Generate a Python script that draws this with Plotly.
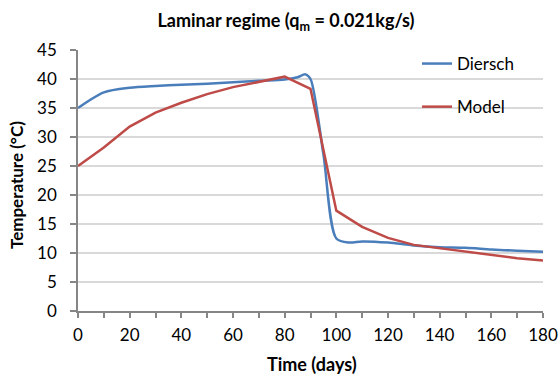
import plotly.graph_objects as go

days_d = [0, 10, 20, 30, 40, 50, 60, 70, 80, 85, 88, 90, 95, 100, 105, 110, 120, 130, 140, 150, 160, 170, 180]
temp_d = [35.0, 37.7, 38.5, 38.8, 39.0, 39.2, 39.45, 39.7, 39.9, 40.3, 40.8, 40.0, 27.0, 12.5, 11.8, 12.0, 11.8, 11.3, 11.0, 10.9, 10.6, 10.4, 10.2]

days_m = [0, 10, 20, 30, 40, 50, 60, 70, 80, 90, 100, 110, 120, 130, 140, 150, 160, 170, 180]
temp_m = [25.0, 28.2, 31.8, 34.2, 35.9, 37.4, 38.6, 39.5, 40.4, 38.3, 17.3, 14.5, 12.6, 11.4, 10.8, 10.2, 9.6, 9.1, 8.7]

FONT = "Lato"

fig = go.Figure()
fig.add_trace(go.Scatter(x=days_d, y=temp_d, mode="lines", name="Diersch",
                         line=dict(color="#4a7ebb", width=2.5, shape="spline", smoothing=0.8),
                         legendgroup="a"))
fig.add_trace(go.Scatter(x=days_m, y=temp_m, mode="lines", name="Model",
                         line=dict(color="#be4b48", width=2.5),
                         legendgroup="b"))

fig.update_layout(
    width=560, height=376,
    margin=dict(l=78, r=17, t=50, b=65, autoexpand=False),
    paper_bgcolor="white", plot_bgcolor="white",
    font=dict(family=FONT, size=15, color="#000000"),
    title=dict(text="<b>Laminar regime (q<sub>m</sub> = 0.021kg/s)</b>",
               x=286 / 560, xanchor="center", y=1 - 21 / 376, yanchor="middle",
               xref="container", yref="container",
               font=dict(size=18, family=FONT)),
    legend=dict(x=(417 - 78) / 465, y=1.0 + 4 / 261, xanchor="left", yanchor="top",
                bgcolor="rgba(0,0,0,0)", traceorder="grouped", tracegroupgap=18,
                font=dict(size=17, family=FONT)),
    showlegend=True,
    annotations=[
        dict(text="<b>Time (days)</b>", xref="paper", yref="paper",
             x=(312 - 78) / 465, y=(311 - 364) / 261, xanchor="center", yanchor="middle",
             showarrow=False, font=dict(size=18, family=FONT)),
        dict(text="<b>Temperature (°C)</b>", xref="paper", yref="paper",
             x=(17 - 78) / 465, y=(311 - 185) / 261, xanchor="center", yanchor="middle",
             textangle=-90, showarrow=False, font=dict(size=17, family=FONT)),
    ],
)

fig.update_xaxes(
    range=[0, 180], dtick=20, tick0=0, automargin=False,
    showline=True, linecolor="#868686", linewidth=1.5,
    ticks="outside", ticklen=5, tickcolor="#868686", tickwidth=1.5,
    minor=dict(dtick=10, ticks="outside", ticklen=5, tickcolor="#868686", tickwidth=1.5, showgrid=False),
    showgrid=False, zeroline=False,
    tickfont=dict(size=17, family=FONT),
    ticklabelstandoff=3,
)
fig.update_yaxes(
    range=[0, 45], dtick=5, tick0=0, automargin=False,
    showline=True, linecolor="#868686", linewidth=1.5,
    ticks="outside", ticklen=6, tickcolor="#868686", tickwidth=1.5,
    showgrid=True, gridcolor="#d9d9d9", gridwidth=1.5,
    zeroline=False,
    tickfont=dict(size=17, family=FONT),
    ticklabelstandoff=10,
)

fig.write_html("out.html")
